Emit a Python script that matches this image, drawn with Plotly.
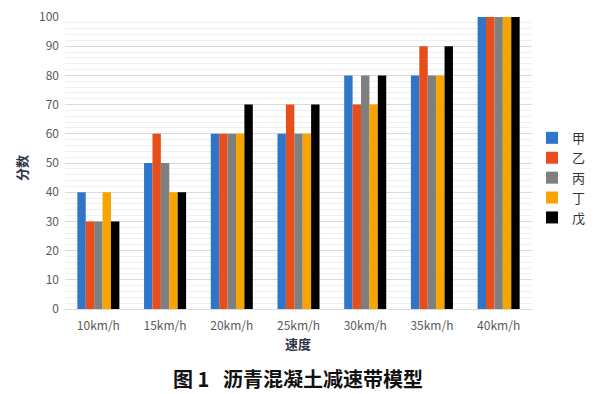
import plotly.graph_objects as go

categories = ["10km/h", "15km/h", "20km/h", "25km/h", "30km/h", "35km/h", "40km/h"]
series_names = ["甲", "乙", "丙", "丁", "戊"]
jia = [40, 50, 60, 60, 80, 80, 100]
yi = [30, 60, 60, 70, 70, 90, 100]
bing = [30, 50, 60, 60, 80, 80, 100]
ding = [40, 40, 60, 60, 70, 80, 100]
wu = [30, 40, 70, 70, 80, 90, 100]
values = [jia, yi, bing, ding, wu]
colors = ["#2F75C9", "#E84E1B", "#7F7F7F", "#F7A400", "#000000"]
y_ticks = [0, 10, 20, 30, 40, 50, 60, 70, 80, 90, 100]

font_family = "Noto Sans CJK SC, Open Sans, sans-serif"

fig = go.Figure()
for name, vals, c in zip(series_names, values, colors):
    fig.add_trace(go.Bar(x=categories, y=vals, name=name, marker=dict(color=c, line=dict(width=0))))

fig.update_layout(
    width=592, height=386,
    barmode="group", bargap=0.37, bargroupgap=0,
    plot_bgcolor="white", paper_bgcolor="white",
    margin=dict(l=57, r=68, t=9, b=85, autoexpand=False),
    font=dict(family=font_family, size=12, color="#595959"),
    legend=dict(x=1.0, xanchor="left", y=0.449, yanchor="middle",
                font=dict(size=13, color="#333333"), itemwidth=30, tracegroupgap=0),
    showlegend=True,
)
fig.update_xaxes(
    showline=True, linecolor="#d9d9d9", linewidth=1, automargin=False,
    tickfont=dict(size=12, color="#595959"), ticks="", ticklabelstandoff=6,
    ticklabeloverflow="allow",
)
fig.update_yaxes(
    range=[0, 100], tickvals=y_ticks, ticktext=[str(v) for v in y_ticks],
    showgrid=True, gridcolor="#d9d9d9", gridwidth=1, automargin=False,
    minor=dict(dtick=2, showgrid=True, gridcolor="#efefef", gridwidth=1),
    zeroline=False, ticklabeloverflow="allow",
    tickfont=dict(size=12, color="#595959"), ticks="", ticklabelstandoff=5,
)
fig.add_annotation(
    text="<b>分数</b>", textangle=-90,
    xref="paper", yref="paper", x=0, y=0.483, xshift=-43,
    xanchor="center", yanchor="middle", showarrow=False,
    font=dict(size=13, color="#2b3445", family=font_family),
)
fig.add_annotation(
    text="<b>速度</b>",
    xref="paper", yref="paper", x=0.499, y=0, yshift=-34,
    xanchor="center", yanchor="middle", showarrow=False,
    font=dict(size=13, color="#2b3445", family=font_family),
)
fig.add_annotation(
    text="<b>图 1\u00a0\u00a0\u00a0沥青混凝土减速带模型</b>",
    xref="paper", yref="paper", x=0.499, y=0, yshift=-69,
    xanchor="center", yanchor="middle", showarrow=False,
    font=dict(size=20, color="#111111", family=font_family),
)
fig.write_html("out.html")
